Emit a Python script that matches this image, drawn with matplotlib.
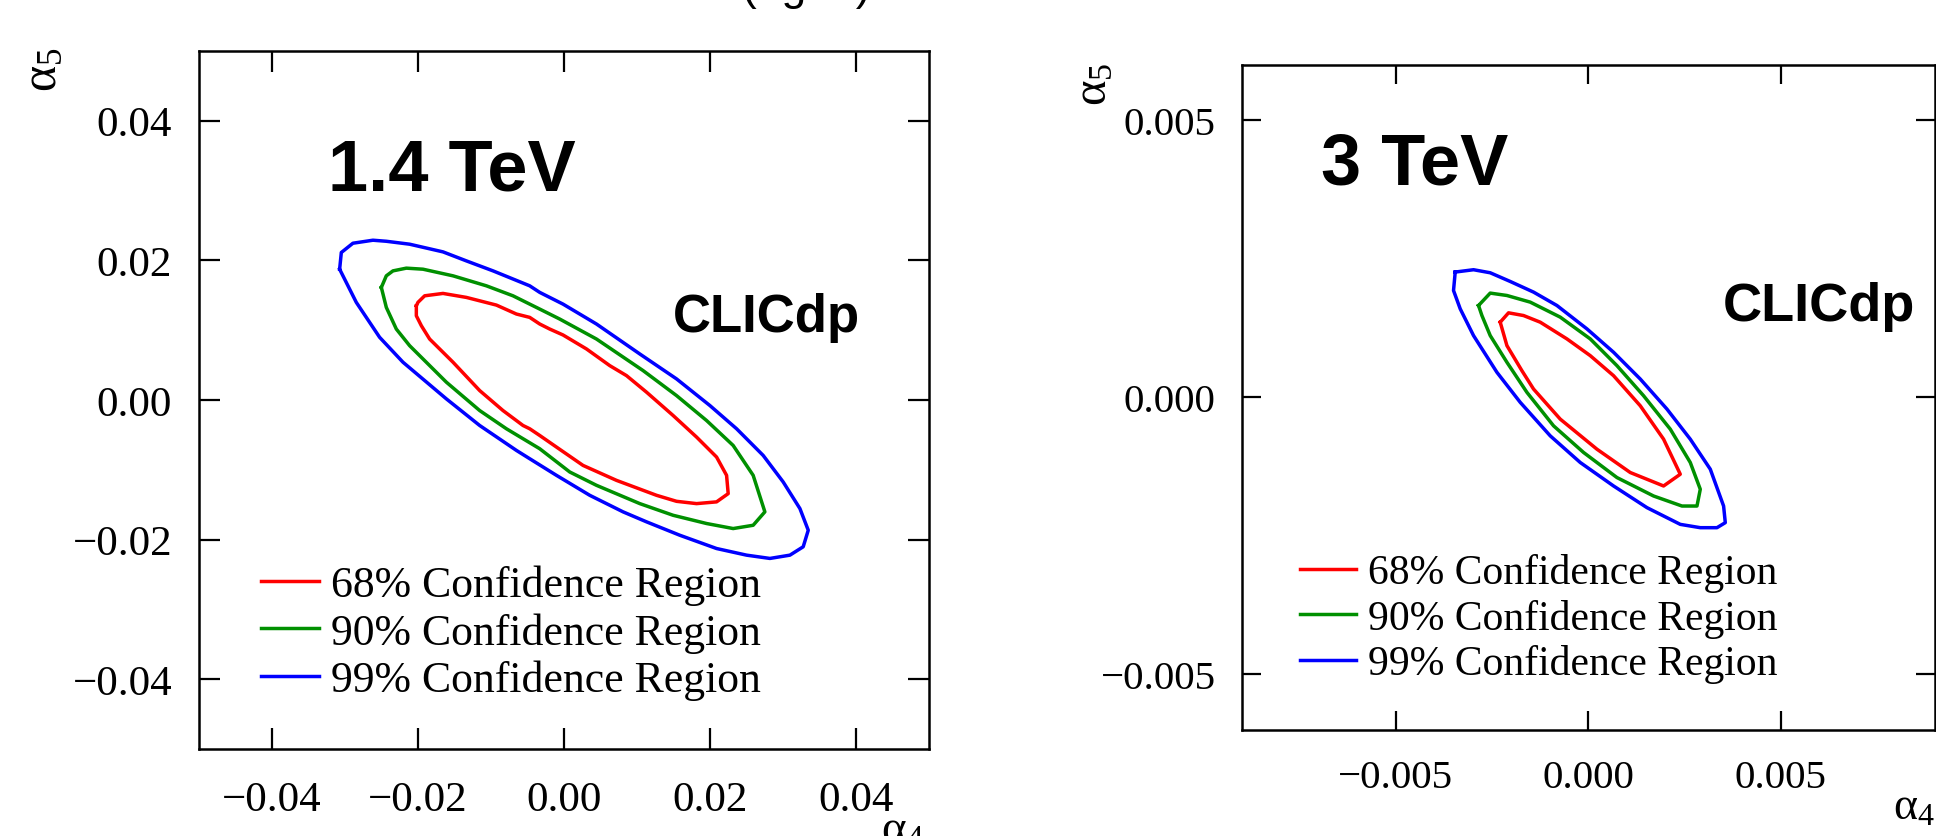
import matplotlib
matplotlib.use("Agg")
import matplotlib.pyplot as plt

plt.rcParams["font.family"] = ["Liberation Serif", "DejaVu Serif"]
plt.rcParams["mathtext.fontset"] = "custom"
plt.rcParams["mathtext.rm"] = "Liberation Serif"
plt.rcParams["mathtext.it"] = "Liberation Serif:italic"

# ---- data: 1.4 TeV contours (alpha4, alpha5) ----
red14_x = [-0.02018, -0.01996, -0.01904, -0.01653, -0.01333, -0.00922, -0.00648, -0.00466, -0.00329, -0.00192,
           -0.00010, 0.00311, 0.00630, 0.00859, 0.01133, 0.01497, 0.01818, 0.02092, 0.02229, 0.02251,
           0.02092, 0.01818, 0.01544, 0.01270, 0.00722, 0.00264, -0.00100, -0.00329, -0.00466, -0.00558,
           -0.00832, -0.01151, -0.01516, -0.01836, -0.01949, -0.02018, -0.02018]
red14_y = [0.01347, 0.01396, 0.01490, 0.01524, 0.01467, 0.01357, 0.01229, 0.01181, 0.01086, 0.01014,
           0.00929, 0.00729, 0.00490, 0.00347, 0.00110, -0.00224, -0.00533, -0.00819, -0.01081, -0.01343,
           -0.01461, -0.01486, -0.01453, -0.01367, -0.01153, -0.00939, -0.00676, -0.00510, -0.00414, -0.00367,
           -0.00153, 0.00133, 0.00539, 0.00871, 0.01061, 0.01204, 0.01347]

green14_x = [-0.02497, -0.02429, -0.02338, -0.02155, -0.01927, -0.01516, -0.01059, -0.00695, -0.00466, -0.00329,
             -0.00055, 0.00448, 0.01086, 0.01544, 0.01955, 0.02319, 0.02593, 0.02753, 0.02593, 0.02319,
             0.01955, 0.01497, 0.01041, 0.00448, 0.00082, -0.00329, -0.00785, -0.01151, -0.01607, -0.02110,
             -0.02292, -0.02429, -0.02497]
green14_y = [0.01610, 0.01776, 0.01847, 0.01886, 0.01871, 0.01776, 0.01633, 0.01490, 0.01371, 0.01300,
             0.01157, 0.00871, 0.00419, 0.00061, -0.00296, -0.00653, -0.01081, -0.01604, -0.01796, -0.01843,
             -0.01771, -0.01653, -0.01486, -0.01224, -0.01033, -0.00700, -0.00414, -0.00153, 0.00253, 0.00776,
             0.01014, 0.01324, 0.01610]

blue14_x = [-0.03068, -0.03045, -0.02886, -0.02612, -0.02429, -0.02110, -0.01653, -0.01333, -0.00968, -0.00466,
            -0.00329, -0.00010, 0.00448, 0.01041, 0.01544, 0.02000, 0.02366, 0.02730, 0.03004, 0.03233,
            0.03347, 0.03278, 0.03096, 0.02822, 0.02503, 0.02092, 0.01589, 0.01133, 0.00812, 0.00356,
            -0.00100, -0.00466, -0.00648, -0.01151, -0.01607, -0.02201, -0.02521, -0.02840, -0.03068]
blue14_y = [0.01871, 0.02110, 0.02243, 0.02286, 0.02271, 0.02229, 0.02119, 0.01990, 0.01847, 0.01633,
            0.01539, 0.01371, 0.01086, 0.00657, 0.00300, -0.00081, -0.00414, -0.00796, -0.01176, -0.01557,
            -0.01867, -0.02104, -0.02224, -0.02271, -0.02224, -0.02129, -0.01939, -0.01747, -0.01604, -0.01367,
            -0.01081, -0.00843, -0.00724, -0.00367, 0.00014, 0.00539, 0.00896, 0.01396, 0.01871]

# ---- data: 3 TeV contours ----
red3_x = [-0.002288, -0.002072, -0.001682, -0.001248, -0.000554, 0.000052, 0.000658, 0.001352, 0.001958, 0.002392,
          0.001958, 0.001092, 0.000226, -0.000728, -0.001422, -0.001724, -0.002114, -0.002288]
red3_y = [0.001357, 0.001526, 0.001477, 0.001357, 0.001055, 0.000753, 0.000391, -0.000152, -0.000755, -0.001388,
          -0.001600, -0.001357, -0.000936, -0.000393, 0.000150, 0.000481, 0.000934, 0.001357]

green3_x = [-0.002852, -0.002548, -0.002114, -0.001508, -0.000728, 0.000052, 0.000746, 0.001438, 0.002132, 0.002652,
            0.002912, 0.002826, 0.002436, 0.001698, 0.000746, -0.000122, -0.000902, -0.001594, -0.002114, -0.002548,
            -0.002764, -0.002852]
green3_y = [0.001658, 0.001882, 0.001839, 0.001719, 0.001448, 0.001055, 0.000572, 0.000029, -0.000574, -0.001176,
            -0.001659, -0.001962, -0.001962, -0.001781, -0.001448, -0.000995, -0.000514, 0.000090, 0.000633, 0.001115,
            0.001477, 0.001658]

blue3_x = [-0.003458, -0.002982, -0.002548, -0.002028, -0.001422, -0.000814, -0.000034, 0.000658, 0.001352, 0.002046,
           0.002652, 0.003172, 0.003518, 0.003562, 0.003346, 0.002912, 0.002392, 0.001526, 0.000658, -0.000208,
           -0.000988, -0.001768, -0.002374, -0.002982, -0.003328, -0.003502, -0.003458]
blue3_y = [0.002262, 0.002304, 0.002249, 0.002092, 0.001900, 0.001658, 0.001236, 0.000814, 0.000331, -0.000212,
           -0.000755, -0.001297, -0.001962, -0.002262, -0.002353, -0.002353, -0.002293, -0.001991, -0.001600, -0.001176,
           -0.000695, -0.000090, 0.000452, 0.001115, 0.001598, 0.001929, 0.002262]

labels = ["68% Confidence Region", "90% Confidence Region", "99% Confidence Region"]
colors = ["#ff0000", "#009000", "#0000ff"]

ticks14 = [-0.04, -0.02, 0.0, 0.02, 0.04]
ticklabels14 = ["\u22120.04", "\u22120.02", "0.00", "0.02", "0.04"]
ticks3 = [-0.005, 0.0, 0.005]
ticklabels3 = ["\u22120.005", "0.000", "0.005"]

W, H = 1936, 837
fig = plt.figure(figsize=(W / 100, H / 100), dpi=100)

ax1 = fig.add_axes([198.5 / W, (H - 750) / H, (929 - 198.5) / W, (750 - 51.7) / H])
ax2 = fig.add_axes([1242 / W, (H - 730.7) / H, (1934.5 - 1242) / W, (730.7 - 66) / H])


def style(ax, ticks, ticklabels, lim, fs, tl, xpad, ypad):
    ax.set_xlim(-lim[0], lim[0])
    ax.set_ylim(-lim[1], lim[1])
    ax.set_xticks(ticks)
    ax.set_xticklabels(ticklabels)
    ax.set_yticks(ticks)
    ax.set_yticklabels(ticklabels)
    ax.tick_params(direction="in", top=True, right=True, length=tl, width=1.6, labelsize=fs)
    ax.tick_params(axis="x", pad=xpad)
    ax.tick_params(axis="y", pad=ypad)
    for s in ax.spines.values():
        s.set_linewidth(1.8)


sets14 = [(red14_x, red14_y), (green14_x, green14_y), (blue14_x, blue14_y)]
for (x, y), c, lab in zip(sets14, colors, labels):
    ax1.plot(x, y, color=c, lw=2.5, label=lab)
style(ax1, ticks14, ticklabels14, (0.05, 0.05), 31, 15, 23, 19)
ax1.text(-0.0323, 0.0301, "1.4 TeV", family="Liberation Sans", weight="bold", fontsize=52, va="baseline")
ax1.text(0.0150, 0.0099, "CLICdp", family="Liberation Sans", weight="bold", fontsize=38, va="baseline")
ax1.legend(loc="center left", bbox_to_anchor=(0.0849, 0.167), frameon=False, fontsize=31.5,
           handlelength=1.33, handletextpad=0.29, labelspacing=0.16, borderpad=0, borderaxespad=0)

sets3 = [(red3_x, red3_y), (green3_x, green3_y), (blue3_x, blue3_y)]
for (x, y), c, lab in zip(sets3, colors, labels):
    ax2.plot(x, y, color=c, lw=2.5, label=lab)
style(ax2, ticks3, ticklabels3, (0.009, 0.006), 29.5, 14, 21, 19)
ax2.text(-0.00695, 0.00386, "3 TeV", family="Liberation Sans", weight="bold", fontsize=52, va="baseline")
ax2.text(0.00350, 0.00140, "CLICdp", family="Liberation Sans", weight="bold", fontsize=39, va="baseline")
ax2.legend(loc="center left", bbox_to_anchor=(0.0838, 0.1676), frameon=False, fontsize=30,
           handlelength=1.34, handletextpad=0.29, labelspacing=0.16, borderpad=0, borderaxespad=0)

# axis titles
fig.text(44 / W, 1 - 70 / H, r"$\mathrm{\alpha}_{5}$", rotation=90, ha="center", va="center", fontsize=36)
fig.text(1094 / W, 1 - 84 / H, r"$\mathrm{\alpha}_{5}$", rotation=90, ha="center", va="center", fontsize=35)
fig.text(881 / W, 1 - 843 / H, r"$\mathrm{\alpha}_{4}$", ha="left", va="baseline", fontsize=34)
fig.text(1893 / W, 1 - 820 / H, r"$\mathrm{\alpha}_{4}$", ha="left", va="baseline", fontsize=33)

# cut-off title fragment at the very top
fig.text(742 / W, 1.0, "(  g    )", family="Liberation Sans", fontsize=32, ha="left", va="baseline")

fig.savefig("out.png", dpi=100)
